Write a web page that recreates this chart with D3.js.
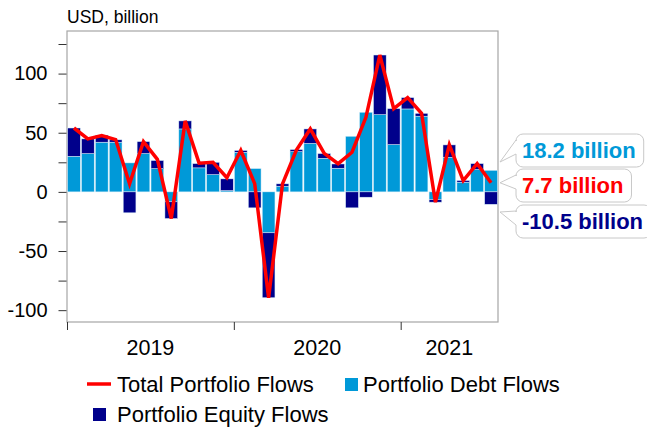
<!DOCTYPE html>
<html lang="en">
<head>
<meta charset="UTF-8">
<title>Portfolio Flows</title>
<script src="https://cdn.jsdelivr.net/npm/d3@7"></script>
<style>
    body { margin: 0; padding: 0; background: #fff; }
    svg text { font-family: Arial, "Liberation Sans", sans-serif; fill: #000; }
</style>
</head>
<body>
<svg width="647" height="428"></svg>
<script>
    // monthly data, Jan 2019 - Jul 2021 (USD billion)
    const months = ["2019-01","2019-02","2019-03","2019-04","2019-05","2019-06","2019-07","2019-08","2019-09","2019-10","2019-11","2019-12",
                    "2020-01","2020-02","2020-03","2020-04","2020-05","2020-06","2020-07","2020-08","2020-09","2020-10","2020-11","2020-12",
                    "2021-01","2021-02","2021-03","2021-04","2021-05","2021-06","2021-07"];
    const debtFlows   = [30.1, 32.4, 42.0, 42.0, 24.5, 32.4, 19.7, -8.4, 53.2, 20.3, 14.6, 1.1,
                         33.5, 19.7, -34.6, 4.8, 34.0, 41.0, 28.4, 20.0, 47.0, 67.3, 65.3, 40.0,
                         70.1, 64.0, -6.5, 29.3, 8.2, 18.9, 18.2];
    const equityFlows = [23.9, 12.4, 6.0, 2.0, -17.7, 10.1, 6.8, -14.1, 6.8, 3.6, 10.4, 9.9,
                         1.5, -13.5, -54.9, 2.0, 1.8, 12.2, 4.0, 3.6, -13.5, -4.5, 50.4, 30.4,
                         9.6, 2.4, -2.2, 10.4, 1.4, 5.0, -10.5];
    const totalFlows  = [54.0, 44.8, 47.6, 44.2, 6.8, 42.5, 27.5, -22.5, 60.0, 24.3, 25.0, 12.0,
                         35.0, 7.0, -89.5, 6.8, 35.4, 53.2, 32.6, 23.8, 33.5, 63.0, 115.7, 70.4,
                         79.7, 66.4, -8.7, 39.7, 9.6, 23.9, 7.7];
    const yearLabels = ["2019", "2020", "2021"];
    const yTicks = [-100, -75, -50, -25, 0, 25, 50, 75, 100, 125];
    const callouts = [
        { value: 18.2, text: "18.2 billion", color: "#0099d8" },
        { value: 7.7, text: "7.7 billion", color: "#ff0000" },
        { value: -10.5, text: "-10.5 billion", color: "#00008b" }
    ];

    const debtColor = "#0099d8", equityColor = "#00008b", totalColor = "#ff0000";

    const svg = d3.select("svg");
    const plot = { left: 67, right: 498, top: 31, bottom: 322 };

    const rows = months.map((m, i) => ({ month: m, i: i, debt: debtFlows[i], equity: equityFlows[i], total: totalFlows[i] }));

    const x = d3.scaleLinear().domain([0, months.length]).range([plot.left, plot.right]);
    const y = d3.scaleLinear().domain([-110, 136]).range([plot.bottom, plot.top]);
    const step = x(1) - x(0);
    const barPad = 0.6;

    // frame
    svg.append("rect")
        .attr("x", plot.left).attr("y", plot.top)
        .attr("width", plot.right - plot.left).attr("height", plot.bottom - plot.top)
        .attr("fill", "none").attr("stroke", "#a6a6a6").attr("stroke-width", 1.2);

    // stacked bars (diverging)
    const series = d3.stack()
        .keys(["debt", "equity"])
        .offset(d3.stackOffsetDiverging)(rows);
    const colors = { debt: debtColor, equity: equityColor };

    svg.append("g").selectAll("g")
        .data(series)
        .enter().append("g")
        .attr("fill", d => colors[d.key])
        .selectAll("rect")
        .data(d => d)
        .enter().append("rect")
        .attr("x", d => x(d.data.i) + barPad)
        .attr("width", step - barPad * 2)
        .attr("y", d => y(Math.max(d[0], d[1])))
        .attr("height", d => Math.abs(y(d[0]) - y(d[1])))
        .attr("stroke", "#d8eef8")
        .attr("stroke-width", 0.5);

    // total line
    const line = d3.line()
        .x(d => x(d.i + 0.5))
        .y(d => y(d.total));
    svg.append("path")
        .datum(rows)
        .attr("fill", "none")
        .attr("stroke", totalColor)
        .attr("stroke-width", 3.5)
        .attr("stroke-linejoin", "miter")
        .attr("d", line);

    // y axis
    const yAxis = d3.axisLeft(y)
        .tickValues(yTicks)
        .tickSize(8)
        .tickPadding(11)
        .tickFormat(d => d % 50 === 0 ? d : "");
    const yg = svg.append("g")
        .attr("transform", `translate(${plot.left - 0.5},0)`)
        .call(yAxis);
    yg.select(".domain").remove();
    yg.selectAll("line").attr("stroke", "#333");
    yg.selectAll("text").style("font-size", "20px");

    // x axis
    const xAxis = d3.axisBottom(x)
        .tickValues([0, 12, 24])
        .tickSize(8)
        .tickFormat("");
    const xg = svg.append("g")
        .attr("transform", `translate(0,${plot.bottom})`)
        .call(xAxis);
    xg.select(".domain").remove();
    xg.selectAll("line").attr("stroke", "#333");

    svg.append("g").selectAll("text")
        .data(yearLabels)
        .enter().append("text")
        .attr("x", (d, i) => x((i * 12 + Math.min(i * 12 + 12, months.length)) / 2))
        .attr("y", 355)
        .attr("text-anchor", "middle")
        .style("font-size", "21.5px")
        .text(d => d);

    // unit label
    svg.append("text")
        .attr("x", plot.left).attr("y", 23)
        .style("font-size", "17.5px")
        .text("USD, billion");

    // callouts
    const boxTops = [134, 169, 205];
    const boxH = 33, boxX = 516, r = 7;
    callouts.forEach((c, i) => {
        const top = boxTops[i], bottom = top + boxH;
        const g = svg.append("g");
        const shape = g.append("path");
        const label = g.append("text")
            .attr("x", boxX + 6)
            .attr("y", top + 24)
            .style("font-size", "22px")
            .style("font-weight", "bold")
            .style("fill", c.color)
            .text(c.text);
        const right = boxX + 6 + label.node().getComputedTextLength() + 8;
        const tipY = Math.max(Math.min(y(c.value), bottom - 5), top + 7);
        const b1 = top + 6, b2 = top + 20;
        const p = d3.path();
        p.moveTo(boxX + r, top);
        p.lineTo(right - r, top);
        p.arcTo(right, top, right, top + r, r);
        p.lineTo(right, bottom - r);
        p.arcTo(right, bottom, right - r, bottom, r);
        p.lineTo(boxX + r, bottom);
        p.arcTo(boxX, bottom, boxX, bottom - r, r);
        p.lineTo(boxX, b2);
        p.lineTo(plot.right + 2, tipY);
        p.lineTo(boxX, b1);
        p.lineTo(boxX, top + r);
        p.arcTo(boxX, top, boxX + r, top, r);
        p.closePath();
        shape.attr("d", p.toString())
            .attr("fill", "#fff")
            .attr("stroke", "#c8c8c8")
            .attr("stroke-width", 1);
    });

    // legend
    const legend = svg.append("g");
    const legendFont = "22px";
    legend.append("line")
        .attr("x1", 87).attr("x2", 111).attr("y1", 384).attr("y2", 384)
        .attr("stroke", totalColor).attr("stroke-width", 3.5);
    legend.append("text").attr("x", 117).attr("y", 392).style("font-size", legendFont).text("Total Portfolio Flows");
    legend.append("rect").attr("x", 345).attr("y", 378).attr("width", 13).attr("height", 13).attr("fill", debtColor);
    legend.append("text").attr("x", 363).attr("y", 392).style("font-size", legendFont).text("Portfolio Debt Flows");
    legend.append("rect").attr("x", 93).attr("y", 408).attr("width", 13).attr("height", 13).attr("fill", equityColor);
    legend.append("text").attr("x", 117).attr("y", 422).style("font-size", legendFont).text("Portfolio Equity Flows");
</script>
</body>
</html>
